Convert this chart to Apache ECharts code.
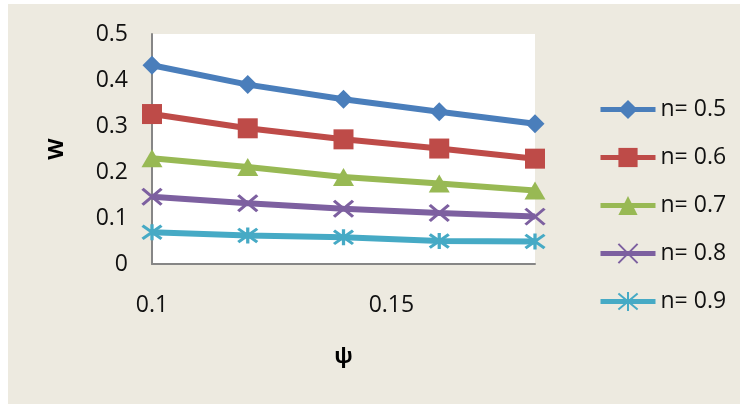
<!DOCTYPE html>
<html>
<head>
<meta charset="utf-8">
<script src="https://cdn.jsdelivr.net/npm/echarts@6/dist/echarts.min.js"></script>
<style>
  html, body { margin: 0; padding: 0; background: #ffffff; }
  #chart { position: absolute; left: 8px; top: 4px; width: 732px; height: 400px; }
</style>
</head>
<body>
<div id="chart"></div>
<script>
// psi values along the x axis
const psi = [0.10, 0.12, 0.14, 0.16, 0.18];

// W for each flow index n
const w05 = [0.432, 0.390, 0.358, 0.331, 0.305];
const w06 = [0.326, 0.295, 0.271, 0.251, 0.229];
const w07 = [0.230, 0.211, 0.189, 0.175, 0.160];
const w08 = [0.146, 0.132, 0.120, 0.111, 0.103];
const w09 = [0.069, 0.062, 0.058, 0.050, 0.049];

const seriesNames = ['n= 0.5', 'n= 0.6', 'n= 0.7', 'n= 0.8', 'n= 0.9'];
const seriesValues = [w05, w06, w07, w08, w09];
const colors = ['#4A7EBB', '#BE4B48', '#98B954', '#7D60A0', '#46AAC5'];

const crossPath = 'path://M0,0L10,10M10,0L0,10';
const starPath = 'path://M0,0L10,10M10,0L0,10M5,-1L5,11';
const symbols = ['diamond', 'rect', 'triangle', crossPath, starPath];
const symbolSizes = [[19, 19], [20, 20], [21, 18], [19, 16], [19, 16]];

const FONT = 'Open Sans';

const series = seriesNames.map((name, i) => {
  const isStroke = i >= 3;
  return {
    name: name,
    type: 'line',
    data: psi.map((x, k) => [x, seriesValues[i][k]]),
    symbol: symbols[i],
    symbolSize: symbolSizes[i],
    showAllSymbol: true,
    lineStyle: { color: colors[i], width: 6 },
    itemStyle: isStroke
      ? { color: colors[i], borderColor: colors[i], borderWidth: 3 }
      : { color: colors[i], borderWidth: 0 },
    emphasis: { disabled: true },
    animation: false
  };
});

const chart = echarts.init(document.getElementById('chart'), null, { renderer: 'canvas' });
chart.setOption({
  backgroundColor: '#EDEAE0',
  color: colors,
  animation: false,
  grid: {
    left: 144, top: 30, right: 205, bottom: 140,
    show: true, backgroundColor: '#ffffff', borderWidth: 0
  },
  xAxis: {
    type: 'value',
    min: 0.1, max: 0.18, interval: 0.05,
    name: 'ψ',
    nameLocation: 'middle',
    nameGap: 82,
    nameTextStyle: { fontFamily: FONT, fontSize: 22, fontWeight: 'bold', color: '#000' },
    axisLine: { show: true, lineStyle: { color: '#868686', width: 2 } },
    axisTick: { show: false },
    splitLine: { show: false },
    axisLabel: {
      showMaxLabel: false,
      margin: 30,
      fontFamily: FONT, fontSize: 23, color: '#111'
    }
  },
  yAxis: {
    type: 'value',
    min: 0, max: 0.5, interval: 0.1,
    name: 'W',
    nameLocation: 'middle',
    nameRotate: 90,
    nameGap: 84,
    nameTextStyle: { fontFamily: FONT, fontSize: 22, fontWeight: 'bold', color: '#000' },
    axisLine: { show: true, lineStyle: { color: '#868686', width: 2 } },
    axisTick: { show: false },
    splitLine: { show: false },
    axisLabel: { margin: 24, fontFamily: FONT, fontSize: 23, color: '#111' }
  },
  legend: {
    orient: 'vertical',
    left: 585,
    top: 89,
    itemWidth: 55,
    itemHeight: 24,
    itemGap: 25,
    data: seriesNames,
    lineStyle: { width: 5 },
    textStyle: { fontFamily: FONT, fontSize: 23, color: '#111', lineHeight: 22 }
  },
  series: series
});
</script>
</body>
</html>
